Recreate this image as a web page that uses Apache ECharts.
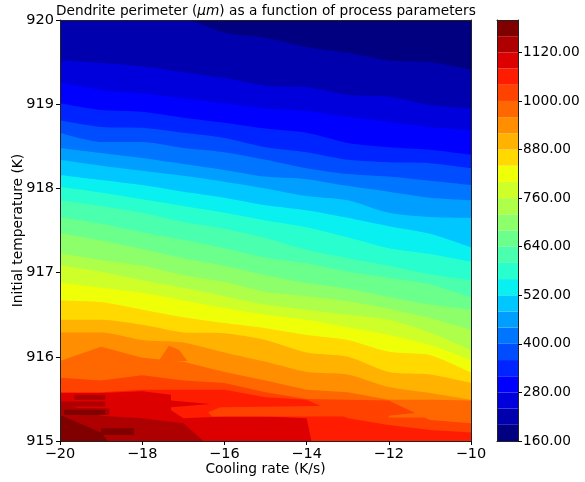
<!DOCTYPE html>
<html><head><meta charset="utf-8">
<style>html,body{margin:0;padding:0;background:#fff}#c{width:585px;height:482px}</style>
<script src="https://cdn.jsdelivr.net/npm/echarts@6/dist/echarts.min.js"></script>
</head><body><div id="c"></div>
<script>
const coolingRates = [-20,-19,-18,-17,-16,-15,-14,-13,-12,-11,-10];
const levels = [200,240,280,320,360,400,440,480,520,560,600,640,680,720,760,800,840,880,920,960,1000,1040,1080,1120,1160];
const colorbarEdges = [160,200,240,280,320,360,400,440,480,520,560,600,640,680,720,760,800,840,880,920,960,1000,1040,1080,1120,1160,1200];
const colorbarTicks = [160,280,400,520,640,760,880,1000,1120];
const xTicks = [-20,-18,-16,-14,-12,-10];
const L200 = [920.30,920.25,920.15,920.03,919.85,919.79,919.68,919.61,919.52,919.50,919.41];
const L240 = [919.52,919.49,919.45,919.38,919.31,919.22,919.20,919.11,919.09,918.99,918.95];
const L280 = [919.26,919.17,919.13,919.07,919.01,918.95,918.92,918.85,918.79,918.73,918.69];
const L320 = [919.01,918.93,918.91,918.84,918.78,918.71,918.66,918.54,918.49,918.46,918.40];
const L360 = [918.81,918.73,918.72,918.66,918.60,918.49,918.43,918.34,918.31,918.30,918.24];
const L400 = [918.66,918.55,918.55,918.48,918.43,918.34,918.24,918.17,918.14,918.09,918.04];
const L440 = [918.48,918.42,918.36,918.29,918.22,918.14,918.11,918.03,917.96,917.89,917.86];
const L480 = [918.34,918.27,918.21,918.15,918.08,918.00,917.91,917.86,917.71,917.66,917.65];
const L520 = [918.16,918.10,918.04,917.96,917.89,917.80,917.74,917.65,917.55,917.46,917.30];
const L560 = [918.02,917.95,917.87,917.79,917.71,917.62,917.54,917.42,917.29,917.22,917.13];
const L600 = [917.86,917.79,917.71,917.60,917.52,917.41,917.27,917.17,917.08,916.98,916.91];
const L640 = [917.66,917.58,917.48,917.39,917.29,917.18,917.11,917.01,916.94,916.86,916.71];
const L680 = [917.47,917.38,917.28,917.17,917.08,916.97,916.88,916.81,916.71,916.62,916.56];
const L720 = [917.23,917.15,917.08,916.97,916.89,916.77,916.72,916.66,916.57,916.46,916.32];
const L760 = [917.09,917.01,916.91,916.82,916.72,916.62,916.56,916.50,916.44,916.29,916.08];
const L800 = [916.88,916.82,916.76,916.67,916.58,916.50,916.44,916.35,916.26,916.14,915.96];
const L840 = [916.67,916.65,916.56,916.47,916.40,916.34,916.26,916.20,916.06,916.02,915.81];
const L880 = [916.44,916.44,916.38,916.29,916.28,916.20,916.05,916.00,915.82,915.79,915.69];
const L920 = [916.29,916.29,916.20,916.17,916.05,915.94,915.82,915.79,915.64,915.57,915.49];
const L960 = [915.95,916.12,915.99,915.94,915.82,915.72,915.61,915.58,915.49,915.49,915.48];
const L1000 = [915.75,915.72,915.78,915.72,915.69,915.58,915.50,915.49,915.48,915.25,915.21];
const L1040 = [915.58,915.58,915.61,915.61,915.61,915.52,915.49,915.27,915.19,915.13,915.10];
const L1080 = [915.57,915.57,915.59,915.27,915.29,915.29,915.27,913,913,913,913];
const L1120 = [915.46,915.30,915.27,915.21,914.78,914,914,914,914,914,914];
const L1160 = [915.31,915.10,914.50,914,914,914,914,914,914,914,914];
const boundaries = [L200,L240,L280,L320,L360,L400,L440,L480,L520,L560,L600,L640,L680,L720,L760,L800,L840,L880,L920,L960,L1000,L1040,L1080,L1120,L1160];
// Isolated islands of a contour band: [band lower value, outline as [cooling rate, temperature]]
const islands = [
  [960,[[-17.6,915.95],[-17.35,916.13],[-17.1,916.08],[-16.9,915.95]]],
  [1080,[[-18,915.59],[-17.3,915.55],[-17.3,915.29],[-18,915.27]]],
  [1080,[[-17.3,915.48],[-16.35,915.44],[-17.3,915.40]]],
  [1000,[[-16.4,915.34],[-16.1,915.40],[-13.3,915.42],[-13,915.29],[-16.3,915.29]]],
  [960,[[-12,915.30],[-11.2,915.34],[-11.1,915.28],[-12,915.28]]],
  [1120,[[-19.65,915.55],[-18.9,915.55],[-18.9,915.49],[-19.65,915.49]]],
  [1120,[[-20,915.47],[-18.9,915.47],[-18.9,915.41],[-20,915.41]]],
  [1120,[[-20,915.39],[-18.8,915.39],[-18.8,915.31],[-20,915.31]]],
  [1160,[[-19.9,915.37],[-18.9,915.37],[-18.9,915.31],[-19.9,915.31]]],
  [1160,[[-19,915.15],[-18.2,915.15],[-18.2,915.07],[-19,915.07]]]
];
function ramp(t,pts){for(let i=1;i<pts.length;i++){if(t<=pts[i][0]){const a=pts[i-1],b=pts[i];return a[1]+(b[1]-a[1])*(t-a[0])/(b[0]-a[0]);}}return pts[pts.length-1][1];}
function jet(t){
  const r=ramp(t,[[0,0],[.35,0],[.66,1],[.89,1],[1,.5]]),
        g=ramp(t,[[0,0],[.125,0],[.375,1],[.64,1],[.91,0],[1,0]]),
        b=ramp(t,[[0,.5],[.11,1],[.34,1],[.65,0],[1,0]]);
  return 'rgb('+Math.round(r*255)+','+Math.round(g*255)+','+Math.round(b*255)+')';
}
const bandColor = v => jet((v-160)/40/25);
const FONT='DejaVu Sans';
const minus = v => String(v).replace('-','\u2212');
const lineSeries = boundaries.map((arr,k)=>({
  type:'line',xAxisIndex:0,yAxisIndex:0,showSymbol:false,silent:true,animation:false,
  smooth:levels[k]<=920?0.25:false,
  data:arr.map((t,i)=>[coolingRates[i],t]),
  lineStyle:{width:0},itemStyle:{color:bandColor(levels[k])},
  areaStyle:{origin:'start',color:bandColor(levels[k]),opacity:1},
  clip:true,z:2
}));
const islandSeries = {
  type:'custom',xAxisIndex:0,yAxisIndex:0,clip:true,silent:true,animation:false,z:2,
  data:islands.map((p,i)=>[p[1][0][0],p[1][0][1],i]),
  encode:{x:0,y:1},
  renderItem(params,api){
    const p=islands[api.value(2)];
    return {type:'polygon',shape:{points:p[1].map(q=>api.coord(q))},style:{fill:bandColor(p[0])}};
  }
};
const barSeries = {
  type:'custom',xAxisIndex:2,yAxisIndex:2,silent:true,animation:false,clip:true,z:2,
  data:colorbarEdges.slice(0,-1).map((v,i)=>[0,v,colorbarEdges[i+1]]),
  encode:{x:0,y:[1,2]},
  renderItem(params,api){
    const a=api.coord([0,api.value(1)]),b=api.coord([1,api.value(2)]);
    return {type:'rect',shape:{x:a[0],y:b[1],width:b[0]-a[0],height:a[1]-b[1]},style:{fill:bandColor(api.value(1))}};
  }
};
const tickStyle={length:4,lineStyle:{color:'#000',width:1}};
const lineBlack={show:true,onZero:false,lineStyle:{color:'#222',width:1}};
const option={
  backgroundColor:'#fff',animation:false,
  title:{left:51,top:-1,text:'Dendrite perimeter ({i|μm}) as a function of process parameters',
    textStyle:{fontFamily:FONT,fontSize:13.7,fontWeight:'normal',color:'#000',
      rich:{i:{fontFamily:FONT,fontSize:13.7,fontStyle:'italic',color:'#000'}}}},
  grid:[
    {left:60,top:20,width:411,height:421,show:true,backgroundColor:bandColor(160),borderWidth:0,outerBoundsMode:'none'},
    {left:497,top:20,width:21,height:421,show:false,outerBoundsMode:'none'}
  ],
  xAxis:[
    {type:'value',gridIndex:0,min:-20,max:-10,position:'bottom',z:10,axisLine:lineBlack,
     axisTick:Object.assign({customValues:xTicks},tickStyle),splitLine:{show:false},
     axisLabel:{customValues:xTicks,formatter:minus,fontFamily:FONT,fontSize:14.5,color:'#000',margin:6},
     name:'Cooling rate (K/s)',nameLocation:'middle',nameGap:21,nameMoveOverlap:false,nameTextStyle:{fontFamily:FONT,fontSize:13.8,color:'#000'}},
    {type:'value',gridIndex:0,min:-20,max:-10,position:'top',z:10,axisLine:lineBlack,axisTick:{show:false},axisLabel:{show:false},splitLine:{show:false}},
    {type:'value',gridIndex:1,min:0,max:1,position:'bottom',z:10,axisLine:lineBlack,axisTick:{show:false},axisLabel:{show:false},splitLine:{show:false}},
    {type:'value',gridIndex:1,min:0,max:1,position:'top',z:10,axisLine:lineBlack,axisTick:{show:false},axisLabel:{show:false},splitLine:{show:false}}
  ],
  yAxis:[
    {type:'value',gridIndex:0,min:915,max:920,interval:1,position:'left',z:10,axisLine:lineBlack,axisTick:tickStyle,splitLine:{show:false},
     axisLabel:{fontFamily:FONT,fontSize:14.5,color:'#000',margin:6},
     name:'Initial temperature (K)',nameLocation:'middle',nameGap:35,nameRotate:90,nameMoveOverlap:false,nameTextStyle:{fontFamily:FONT,fontSize:13.8,color:'#000'}},
    {type:'value',gridIndex:0,min:915,max:920,interval:1,position:'right',z:10,axisLine:lineBlack,axisTick:{show:false},axisLabel:{show:false},splitLine:{show:false}},
    {type:'value',gridIndex:1,min:160,max:1200,position:'right',z:10,axisLine:lineBlack,axisTick:Object.assign({customValues:colorbarTicks},tickStyle),splitLine:{show:false},
     axisLabel:{customValues:colorbarTicks,formatter:v=>Number(v).toFixed(2),fontFamily:FONT,fontSize:13.7,color:'#000',margin:5}},
    {type:'value',gridIndex:1,min:160,max:1200,position:'left',z:10,axisLine:lineBlack,axisTick:{show:false},axisLabel:{show:false},splitLine:{show:false}}
  ],
  series:[...lineSeries,islandSeries,barSeries]
};
const chart=echarts.init(document.getElementById('c'),null,{renderer:'canvas',width:585,height:482});
chart.setOption(option);
</script></body></html>
